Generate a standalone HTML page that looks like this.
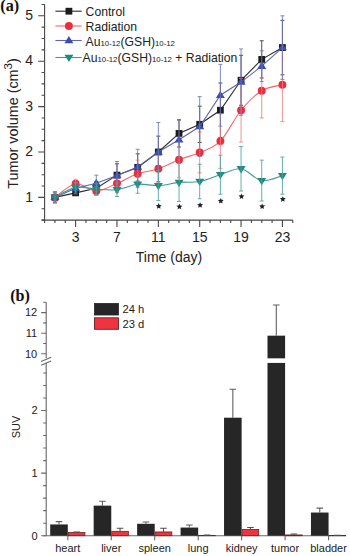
<!DOCTYPE html>
<html><head><meta charset="utf-8"><style>
html,body{margin:0;padding:0;background:#fff;width:350px;height:556px;overflow:hidden}
svg{display:block;font-family:"Liberation Sans",sans-serif}
</style></head><body>
<svg width="350" height="556" viewBox="0 0 350 556">
<rect width="350" height="556" fill="#fff"/>
<path d="M44.6 4.45V220.1M41.6 220.1H292.76" stroke="#474747" stroke-width="1.1" fill="none"/>
<path d="M41.6 220.1H44.6M41.6 208.75H44.6M38.2 197.4H44.6M41.6 186.05H44.6M41.6 174.7H44.6M41.6 163.35H44.6M38.2 152H44.6M41.6 140.65H44.6M41.6 129.3H44.6M41.6 117.95H44.6M38.2 106.6H44.6M41.6 95.25H44.6M41.6 83.9H44.6M41.6 72.55H44.6M38.2 61.2H44.6M41.6 49.85H44.6M41.6 38.5H44.6M41.6 27.15H44.6M38.2 15.8H44.6M41.6 4.45H44.6M44.6 220.1v3M54.94 220.1v3M65.28 220.1v3M75.62 220.1v6.8M85.96 220.1v3M96.3 220.1v3M106.64 220.1v3M116.98 220.1v6.8M127.32 220.1v3M137.66 220.1v3M148 220.1v3M158.34 220.1v6.8M168.68 220.1v3M179.02 220.1v3M189.36 220.1v3M199.7 220.1v6.8M210.04 220.1v3M220.38 220.1v3M230.72 220.1v3M241.06 220.1v6.8M251.4 220.1v3M261.74 220.1v3M272.08 220.1v3M282.42 220.1v6.8M292.76 220.1v3" stroke="#474747" stroke-width="1.1" fill="none"/>
<text x="33.1" y="201.6" text-anchor="end" font-size="14" fill="#222">1</text>
<text x="33.1" y="156.2" text-anchor="end" font-size="14" fill="#222">2</text>
<text x="33.1" y="110.8" text-anchor="end" font-size="14" fill="#222">3</text>
<text x="33.1" y="65.4" text-anchor="end" font-size="14" fill="#222">4</text>
<text x="33.1" y="20" text-anchor="end" font-size="14" fill="#222">5</text>
<text x="75.62" y="242" text-anchor="middle" font-size="14" fill="#222">3</text>
<text x="116.98" y="242" text-anchor="middle" font-size="14" fill="#222">7</text>
<text x="158.34" y="242" text-anchor="middle" font-size="14" fill="#222">11</text>
<text x="199.7" y="242" text-anchor="middle" font-size="14" fill="#222">15</text>
<text x="241.06" y="242" text-anchor="middle" font-size="14" fill="#222">19</text>
<text x="282.42" y="242" text-anchor="middle" font-size="14" fill="#222">23</text>
<text x="169" y="261.5" text-anchor="middle" font-size="14" fill="#222">Time (day)</text>
<text transform="translate(17.8 123.5) rotate(-90)" text-anchor="middle" font-size="14.4" fill="#222">Tumor volume (cm<tspan dy="-5.8" font-size="11.5">3</tspan><tspan dy="5.8">)</tspan></text>
<text x="0.3" y="11.1" font-family="Liberation Serif" font-weight="bold" font-size="16.2" fill="#111">(a)</text>
<path d="M54.94 197.4L75.62 192.86L96.3 188.32L116.98 175.15L137.66 167.44L158.34 152L179.02 133.39L199.7 124.31L220.38 110.23L241.06 80.27L261.74 59.38L282.42 47.58" stroke="#2a2a2a" stroke-width="1.1" fill="none"/>
<rect x="51.54" y="194" width="6.8" height="6.8" fill="#1c1c1c"/>
<rect x="72.22" y="189.46" width="6.8" height="6.8" fill="#1c1c1c"/>
<rect x="92.9" y="184.92" width="6.8" height="6.8" fill="#1c1c1c"/>
<rect x="113.58" y="171.75" width="6.8" height="6.8" fill="#1c1c1c"/>
<rect x="134.26" y="164.04" width="6.8" height="6.8" fill="#1c1c1c"/>
<rect x="154.94" y="148.6" width="6.8" height="6.8" fill="#1c1c1c"/>
<rect x="175.62" y="129.99" width="6.8" height="6.8" fill="#1c1c1c"/>
<rect x="196.3" y="120.91" width="6.8" height="6.8" fill="#1c1c1c"/>
<rect x="216.98" y="106.83" width="6.8" height="6.8" fill="#1c1c1c"/>
<rect x="237.66" y="76.87" width="6.8" height="6.8" fill="#1c1c1c"/>
<rect x="258.34" y="55.98" width="6.8" height="6.8" fill="#1c1c1c"/>
<rect x="279.02" y="44.18" width="6.8" height="6.8" fill="#1c1c1c"/>
<path d="M54.94 191.95V202.85M52.94 191.95h4M52.94 202.85h4M75.62 190.59V195.13M73.62 190.59h4M73.62 195.13h4M96.3 181.51V195.13M94.3 181.51h4M94.3 195.13h4M116.98 163.8V186.5M114.98 163.8h4M114.98 186.5h4M137.66 153.82V181.06M135.66 153.82h4M135.66 181.06h4M158.34 136.11V167.89M156.34 136.11h4M156.34 167.89h4M179.02 119.77V147.01M177.02 119.77h4M177.02 147.01h4M199.7 106.15V142.47M197.7 106.15h4M197.7 142.47h4M220.38 82.99V137.47M218.38 82.99h4M218.38 137.47h4M241.06 55.3V105.24M239.06 55.3h4M239.06 105.24h4M261.74 40.77V78M259.74 40.77h4M259.74 78h4M282.42 20.34V74.82M280.42 20.34h4M280.42 74.82h4" stroke="#333" stroke-width="1" fill="none" opacity="0.85"/>
<path d="M54.94 197.4C58.39 195.13 68.73 184.84 75.62 183.78C82.51 182.72 89.41 191.12 96.3 191.04C103.19 190.97 110.09 186.2 116.98 183.33C123.87 180.45 130.77 176.21 137.66 173.79C144.55 171.37 151.45 171.14 158.34 168.8C165.23 166.45 172.13 162.44 179.02 159.72C185.91 156.99 192.81 155.56 199.7 152.45C206.59 149.35 213.49 148.14 220.38 141.1C227.27 134.07 234.17 118.63 241.06 110.23C247.95 101.83 254.85 94.95 261.74 90.71C268.63 86.47 278.97 85.79 282.42 84.81" stroke="#ee6868" stroke-width="1.1" fill="none"/>
<circle cx="54.94" cy="197.4" r="3.95" fill="#ee2a3c"/>
<circle cx="75.62" cy="183.78" r="3.95" fill="#ee2a3c"/>
<circle cx="96.3" cy="191.04" r="3.95" fill="#ee2a3c"/>
<circle cx="116.98" cy="183.33" r="3.95" fill="#ee2a3c"/>
<circle cx="137.66" cy="173.79" r="3.95" fill="#ee2a3c"/>
<circle cx="158.34" cy="168.8" r="3.95" fill="#ee2a3c"/>
<circle cx="179.02" cy="159.72" r="3.95" fill="#ee2a3c"/>
<circle cx="199.7" cy="152.45" r="3.95" fill="#ee2a3c"/>
<circle cx="220.38" cy="141.1" r="3.95" fill="#ee2a3c"/>
<circle cx="241.06" cy="110.23" r="3.95" fill="#ee2a3c"/>
<circle cx="261.74" cy="90.71" r="3.95" fill="#ee2a3c"/>
<circle cx="282.42" cy="84.81" r="3.95" fill="#ee2a3c"/>
<path d="M54.94 192.86V201.94M52.94 192.86h4M52.94 201.94h4M75.62 179.24V188.32M73.62 179.24h4M73.62 188.32h4M96.3 186.5V195.58M94.3 186.5h4M94.3 195.58h4M116.98 174.25V192.41M114.98 174.25h4M114.98 192.41h4M137.66 160.17V187.41M135.66 160.17h4M135.66 187.41h4M158.34 155.18V182.42M156.34 155.18h4M156.34 182.42h4M179.02 141.56V177.88M177.02 141.56h4M177.02 177.88h4M199.7 132.02V172.88M197.7 132.02h4M197.7 172.88h4M220.38 113.86V168.34M218.38 113.86h4M218.38 168.34h4M241.06 78.45V142.01M239.06 78.45h4M239.06 142.01h4M261.74 63.47V117.95M259.74 63.47h4M259.74 117.95h4M282.42 48.03V121.58M280.42 48.03h4M280.42 121.58h4" stroke="#e98282" stroke-width="1" fill="none" opacity="0.85"/>
<path d="M54.94 197.4L75.62 188.32L96.3 183.33L116.98 175.61L137.66 166.98L158.34 152L179.02 139.74L199.7 126.58L220.38 95.25L241.06 82.08L261.74 66.19L282.42 47.58" stroke="#5d66ae" stroke-width="1.1" fill="none"/>
<path d="M54.94 192.8L59.44 200.1H50.44Z" fill="#3b4eb0"/>
<path d="M75.62 183.72L80.12 191.02H71.12Z" fill="#3b4eb0"/>
<path d="M96.3 178.73L100.8 186.03H91.8Z" fill="#3b4eb0"/>
<path d="M116.98 171.01L121.48 178.31H112.48Z" fill="#3b4eb0"/>
<path d="M137.66 162.38L142.16 169.68H133.16Z" fill="#3b4eb0"/>
<path d="M158.34 147.4L162.84 154.7H153.84Z" fill="#3b4eb0"/>
<path d="M179.02 135.14L183.52 142.44H174.52Z" fill="#3b4eb0"/>
<path d="M199.7 121.98L204.2 129.28H195.2Z" fill="#3b4eb0"/>
<path d="M220.38 90.65L224.88 97.95H215.88Z" fill="#3b4eb0"/>
<path d="M241.06 77.48L245.56 84.78H236.56Z" fill="#3b4eb0"/>
<path d="M261.74 61.59L266.24 68.89H257.24Z" fill="#3b4eb0"/>
<path d="M282.42 42.98L286.92 50.28H277.92Z" fill="#3b4eb0"/>
<path d="M54.94 191.95V202.85M52.94 191.95h4M52.94 202.85h4M75.62 182.87V193.77M73.62 182.87h4M73.62 193.77h4M96.3 175.15V191.5M94.3 175.15h4M94.3 191.5h4M116.98 161.53V189.68M114.98 161.53h4M114.98 189.68h4M137.66 149.28V184.69M135.66 149.28h4M135.66 184.69h4M158.34 122.49V181.51M156.34 122.49h4M156.34 181.51h4M179.02 120.22V159.26M177.02 120.22h4M177.02 159.26h4M199.7 96.61V156.54M197.7 96.61h4M197.7 156.54h4M220.38 64.38V126.12M218.38 64.38h4M218.38 126.12h4M241.06 48.94V115.23M239.06 48.94h4M239.06 115.23h4M261.74 50.76V81.63M259.74 50.76h4M259.74 81.63h4M282.42 15.8V79.36M280.42 15.8h4M280.42 79.36h4" stroke="#6d75b8" stroke-width="1" fill="none" opacity="0.85"/>
<path d="M54.94 197.4C58.39 195.74 68.73 188.77 75.62 187.41C82.51 186.05 89.41 188.85 96.3 189.23C103.19 189.61 110.09 190.51 116.98 189.68C123.87 188.85 130.77 184.92 137.66 184.23C144.55 183.55 151.45 185.9 158.34 185.6C165.23 185.29 172.13 183.1 179.02 182.42C185.91 181.74 192.81 182.8 199.7 181.51C206.59 180.22 213.49 176.82 220.38 174.7C227.27 172.58 234.17 167.81 241.06 168.8C247.95 169.78 254.85 179.47 261.74 180.6C268.63 181.74 278.97 176.44 282.42 175.61" stroke="#3f9a94" stroke-width="1.1" fill="none"/>
<path d="M54.94 202L59.44 194.7H50.44Z" fill="#1e8a84"/>
<path d="M75.62 192.01L80.12 184.71H71.12Z" fill="#1e8a84"/>
<path d="M96.3 193.83L100.8 186.53H91.8Z" fill="#1e8a84"/>
<path d="M116.98 194.28L121.48 186.98H112.48Z" fill="#1e8a84"/>
<path d="M137.66 188.83L142.16 181.53H133.16Z" fill="#1e8a84"/>
<path d="M158.34 190.2L162.84 182.9H153.84Z" fill="#1e8a84"/>
<path d="M179.02 187.02L183.52 179.72H174.52Z" fill="#1e8a84"/>
<path d="M199.7 186.11L204.2 178.81H195.2Z" fill="#1e8a84"/>
<path d="M220.38 179.3L224.88 172H215.88Z" fill="#1e8a84"/>
<path d="M241.06 173.4L245.56 166.1H236.56Z" fill="#1e8a84"/>
<path d="M261.74 185.2L266.24 177.9H257.24Z" fill="#1e8a84"/>
<path d="M282.42 180.21L286.92 172.91H277.92Z" fill="#1e8a84"/>
<path d="M54.94 192.86V201.94M52.94 192.86h4M52.94 201.94h4M75.62 182.87V191.95M73.62 182.87h4M73.62 191.95h4M96.3 183.78V194.68M94.3 183.78h4M94.3 194.68h4M116.98 182.87V196.49M114.98 182.87h4M114.98 196.49h4M137.66 175.15V193.31M135.66 175.15h4M135.66 193.31h4M158.34 170.61V200.58M156.34 170.61h4M156.34 200.58h4M179.02 163.35V201.49M177.02 163.35h4M177.02 201.49h4M199.7 164.26V198.76M197.7 164.26h4M197.7 198.76h4M220.38 155.18V194.22M218.38 155.18h4M218.38 194.22h4M241.06 146.55V191.04M239.06 146.55h4M239.06 191.04h4M261.74 160.17V201.03M259.74 160.17h4M259.74 201.03h4M282.42 156.99V194.22M280.42 156.99h4M280.42 194.22h4" stroke="#4aa39e" stroke-width="1" fill="none" opacity="0.85"/>
<path d="M158.74 203.1L159.6 205.02L161.69 205.24L160.13 206.65L160.56 208.71L158.74 207.66L156.92 208.71L157.35 206.65L155.79 205.24L157.88 205.02Z" fill="#222"/>
<path d="M179.42 203.7L180.28 205.62L182.37 205.84L180.81 207.25L181.24 209.31L179.42 208.26L177.6 209.31L178.03 207.25L176.47 205.84L178.56 205.62Z" fill="#222"/>
<path d="M200.1 202.2L200.96 204.12L203.05 204.34L201.49 205.75L201.92 207.81L200.1 206.76L198.28 207.81L198.71 205.75L197.15 204.34L199.24 204.12Z" fill="#222"/>
<path d="M220.78 197.9L221.64 199.82L223.73 200.04L222.17 201.45L222.6 203.51L220.78 202.46L218.96 203.51L219.39 201.45L217.83 200.04L219.92 199.82Z" fill="#222"/>
<path d="M241.46 193.4L242.32 195.32L244.41 195.54L242.85 196.95L243.28 199.01L241.46 197.96L239.64 199.01L240.07 196.95L238.51 195.54L240.6 195.32Z" fill="#222"/>
<path d="M262.14 203.4L263 205.32L265.09 205.54L263.53 206.95L263.96 209.01L262.14 207.96L260.32 209.01L260.75 206.95L259.19 205.54L261.28 205.32Z" fill="#222"/>
<path d="M282.82 196.2L283.68 198.12L285.77 198.34L284.21 199.75L284.64 201.81L282.82 200.76L281 201.81L281.43 199.75L279.87 198.34L281.96 198.12Z" fill="#222"/>
<path d="M55.4 11.2H81.7" stroke="#2a2a2a" stroke-width="1.1"/>
<rect x="65.5" y="7.8" width="6.8" height="6.8" fill="#1c1c1c"/>
<path d="M55.4 26H81.7" stroke="#ee6868" stroke-width="1.1"/>
<circle cx="68.9" cy="26" r="3.95" fill="#ee2a3c"/>
<path d="M55.4 40.5H81.7" stroke="#5d66ae" stroke-width="1.1"/>
<path d="M68.9 35.9L73.4 43.2H64.4Z" fill="#3b4eb0"/>
<path d="M55.4 57.5H81.7" stroke="#3f9a94" stroke-width="1.1"/>
<path d="M68.9 62.1L73.4 54.8H64.4Z" fill="#1e8a84"/>
<text x="85.6" y="15.6" font-size="12.2" fill="#222">Control</text>
<text x="85.6" y="30.6" font-size="12.2" fill="#222">Radiation</text>
<text x="85.6" y="46" font-size="12.2" fill="#222">Au<tspan font-size="7.8">10-12</tspan>(GSH)<tspan font-size="7.8">10-12</tspan></text>
<text x="82.6" y="61.7" font-size="12.2" fill="#222">Au<tspan font-size="7.8">10-12</tspan>(GSH)<tspan font-size="7.8">10-12</tspan> + Radiation</text>
<text x="10.2" y="301" font-family="Liberation Serif" font-weight="bold" font-size="16.2" fill="#111">(b)</text>
<path d="M46.2 302.3V358.33M46.2 362.92V535.7M43.2 535.7H346" stroke="#686868" stroke-width="1.1" fill="none"/>
<path d="M41.2 535.7H46.2M43.2 523.18H46.2M43.2 510.66H46.2M43.2 498.14H46.2M43.2 485.62H46.2M41.2 473.1H46.2M43.2 460.58H46.2M43.2 448.06H46.2M43.2 435.54H46.2M43.2 423.02H46.2M41.2 410.5H46.2M43.2 397.98H46.2M43.2 385.46H46.2M43.2 372.94H46.2M41.2 353.8H46.2M43.2 343.5H46.2M41.2 333.2H46.2M43.2 322.9H46.2M41.2 312.6H46.2M43.2 302.3H46.2M67.8 535.7v4.5M111.26 535.7v4.5M154.72 535.7v4.5M198.18 535.7v4.5M241.64 535.7v4.5M285.1 535.7v4.5M328.56 535.7v4.5" stroke="#686868" stroke-width="1.1" fill="none"/>
<path d="M41.1 361.6L51.1 357.2M41.1 365.2L51.1 360.9" stroke="#686868" stroke-width="1.1" fill="none"/>
<text x="37.6" y="539.5" text-anchor="end" font-size="11" fill="#222">0</text>
<text x="37.6" y="476.9" text-anchor="end" font-size="11" fill="#222">1</text>
<text x="37.6" y="414.3" text-anchor="end" font-size="11" fill="#222">2</text>
<text x="37.2" y="357.6" text-anchor="end" font-size="11" fill="#222">10</text>
<text x="37.2" y="337" text-anchor="end" font-size="11" fill="#222">11</text>
<text x="37.2" y="316.4" text-anchor="end" font-size="11" fill="#222">12</text>
<text transform="translate(20.4 427) rotate(-90)" text-anchor="middle" font-size="11" fill="#222">SUV</text>
<text x="67.8" y="552.3" text-anchor="middle" font-size="11" fill="#222">heart</text>
<text x="111.26" y="552.3" text-anchor="middle" font-size="11" fill="#222">liver</text>
<text x="154.72" y="552.3" text-anchor="middle" font-size="11" fill="#222">spleen</text>
<text x="198.18" y="552.3" text-anchor="middle" font-size="11" fill="#222">lung</text>
<text x="241.64" y="552.3" text-anchor="middle" font-size="11" fill="#222">kidney</text>
<text x="285.1" y="552.3" text-anchor="middle" font-size="11" fill="#222">tumor</text>
<text x="328.56" y="552.3" text-anchor="middle" font-size="11" fill="#222">bladder</text>
<rect x="50.2" y="524.43" width="17.6" height="11.27" fill="#262626"/>
<path d="M59 524.43V521.62M55.7 521.62h6.6" stroke="#606060" stroke-width="1.1" fill="none"/>
<rect x="68.3" y="532.57" width="16.6" height="3.13" fill="#ef3440" stroke="#6b2226" stroke-width="0.8"/>
<path d="M76.6 532.57V531.94M73.3 531.94h6.6" stroke="#505050" stroke-width="1.1" fill="none"/>
<rect x="93.66" y="505.65" width="17.6" height="30.05" fill="#262626"/>
<path d="M102.46 505.65V501.27M99.16 501.27h6.6" stroke="#606060" stroke-width="1.1" fill="none"/>
<rect x="111.76" y="531.32" width="16.6" height="4.38" fill="#ef3440" stroke="#6b2226" stroke-width="0.8"/>
<path d="M120.06 531.32V528.19M116.76 528.19h6.6" stroke="#505050" stroke-width="1.1" fill="none"/>
<rect x="137.12" y="523.81" width="17.6" height="11.89" fill="#262626"/>
<path d="M145.92 523.81V521.93M142.62 521.93h6.6" stroke="#606060" stroke-width="1.1" fill="none"/>
<rect x="155.22" y="531.94" width="16.6" height="3.76" fill="#ef3440" stroke="#6b2226" stroke-width="0.8"/>
<path d="M163.52 531.94V528.19M160.22 528.19h6.6" stroke="#505050" stroke-width="1.1" fill="none"/>
<rect x="180.58" y="527.56" width="17.6" height="8.14" fill="#262626"/>
<path d="M189.38 527.56V525.06M186.08 525.06h6.6" stroke="#606060" stroke-width="1.1" fill="none"/>
<rect x="198.68" y="535.45" width="16.6" height="0.25" fill="#ef3440" stroke="#6b2226" stroke-width="0.8"/>
<path d="M206.98 535.45V535.14M203.68 535.14h6.6" stroke="#505050" stroke-width="1.1" fill="none"/>
<rect x="224.04" y="417.7" width="17.6" height="118" fill="#262626"/>
<path d="M232.84 417.7V389.22M229.54 389.22h6.6" stroke="#606060" stroke-width="1.1" fill="none"/>
<rect x="242.14" y="529.44" width="16.6" height="6.26" fill="#ef3440" stroke="#6b2226" stroke-width="0.8"/>
<path d="M250.44 529.44V527.56M247.14 527.56h6.6" stroke="#505050" stroke-width="1.1" fill="none"/>
<rect x="267.5" y="335.67" width="17.6" height="22.66" fill="#262626"/>
<rect x="267.5" y="362.92" width="17.6" height="172.78" fill="#262626"/>
<path d="M276.3 335.67V304.98M273 304.98h6.6" stroke="#606060" stroke-width="1.1" fill="none"/>
<rect x="285.6" y="534.95" width="16.6" height="0.75" fill="#ef3440" stroke="#6b2226" stroke-width="0.8"/>
<path d="M293.9 534.95V534.07M290.6 534.07h6.6" stroke="#505050" stroke-width="1.1" fill="none"/>
<rect x="310.96" y="512.54" width="17.6" height="23.16" fill="#262626"/>
<path d="M319.76 512.54V508.16M316.46 508.16h6.6" stroke="#606060" stroke-width="1.1" fill="none"/>
<rect x="329.06" y="535.51" width="16.6" height="0.19" fill="#ef3440" stroke="#6b2226" stroke-width="0.8"/>
<path d="M337.36 535.51V535.39M334.06 535.39h6.6" stroke="#505050" stroke-width="1.1" fill="none"/>
<rect x="94.5" y="303.5" width="24" height="11.5" fill="#262626" stroke="#222" stroke-width="0.8"/>
<rect x="94.5" y="317.8" width="24" height="11.5" fill="#ef3440" stroke="#6b2226" stroke-width="0.9"/>
<text x="122.5" y="313.2" font-size="11.2" fill="#222">24 h</text>
<text x="122.5" y="327.5" font-size="11.2" fill="#222">23 d</text>
</svg>
</body></html>
